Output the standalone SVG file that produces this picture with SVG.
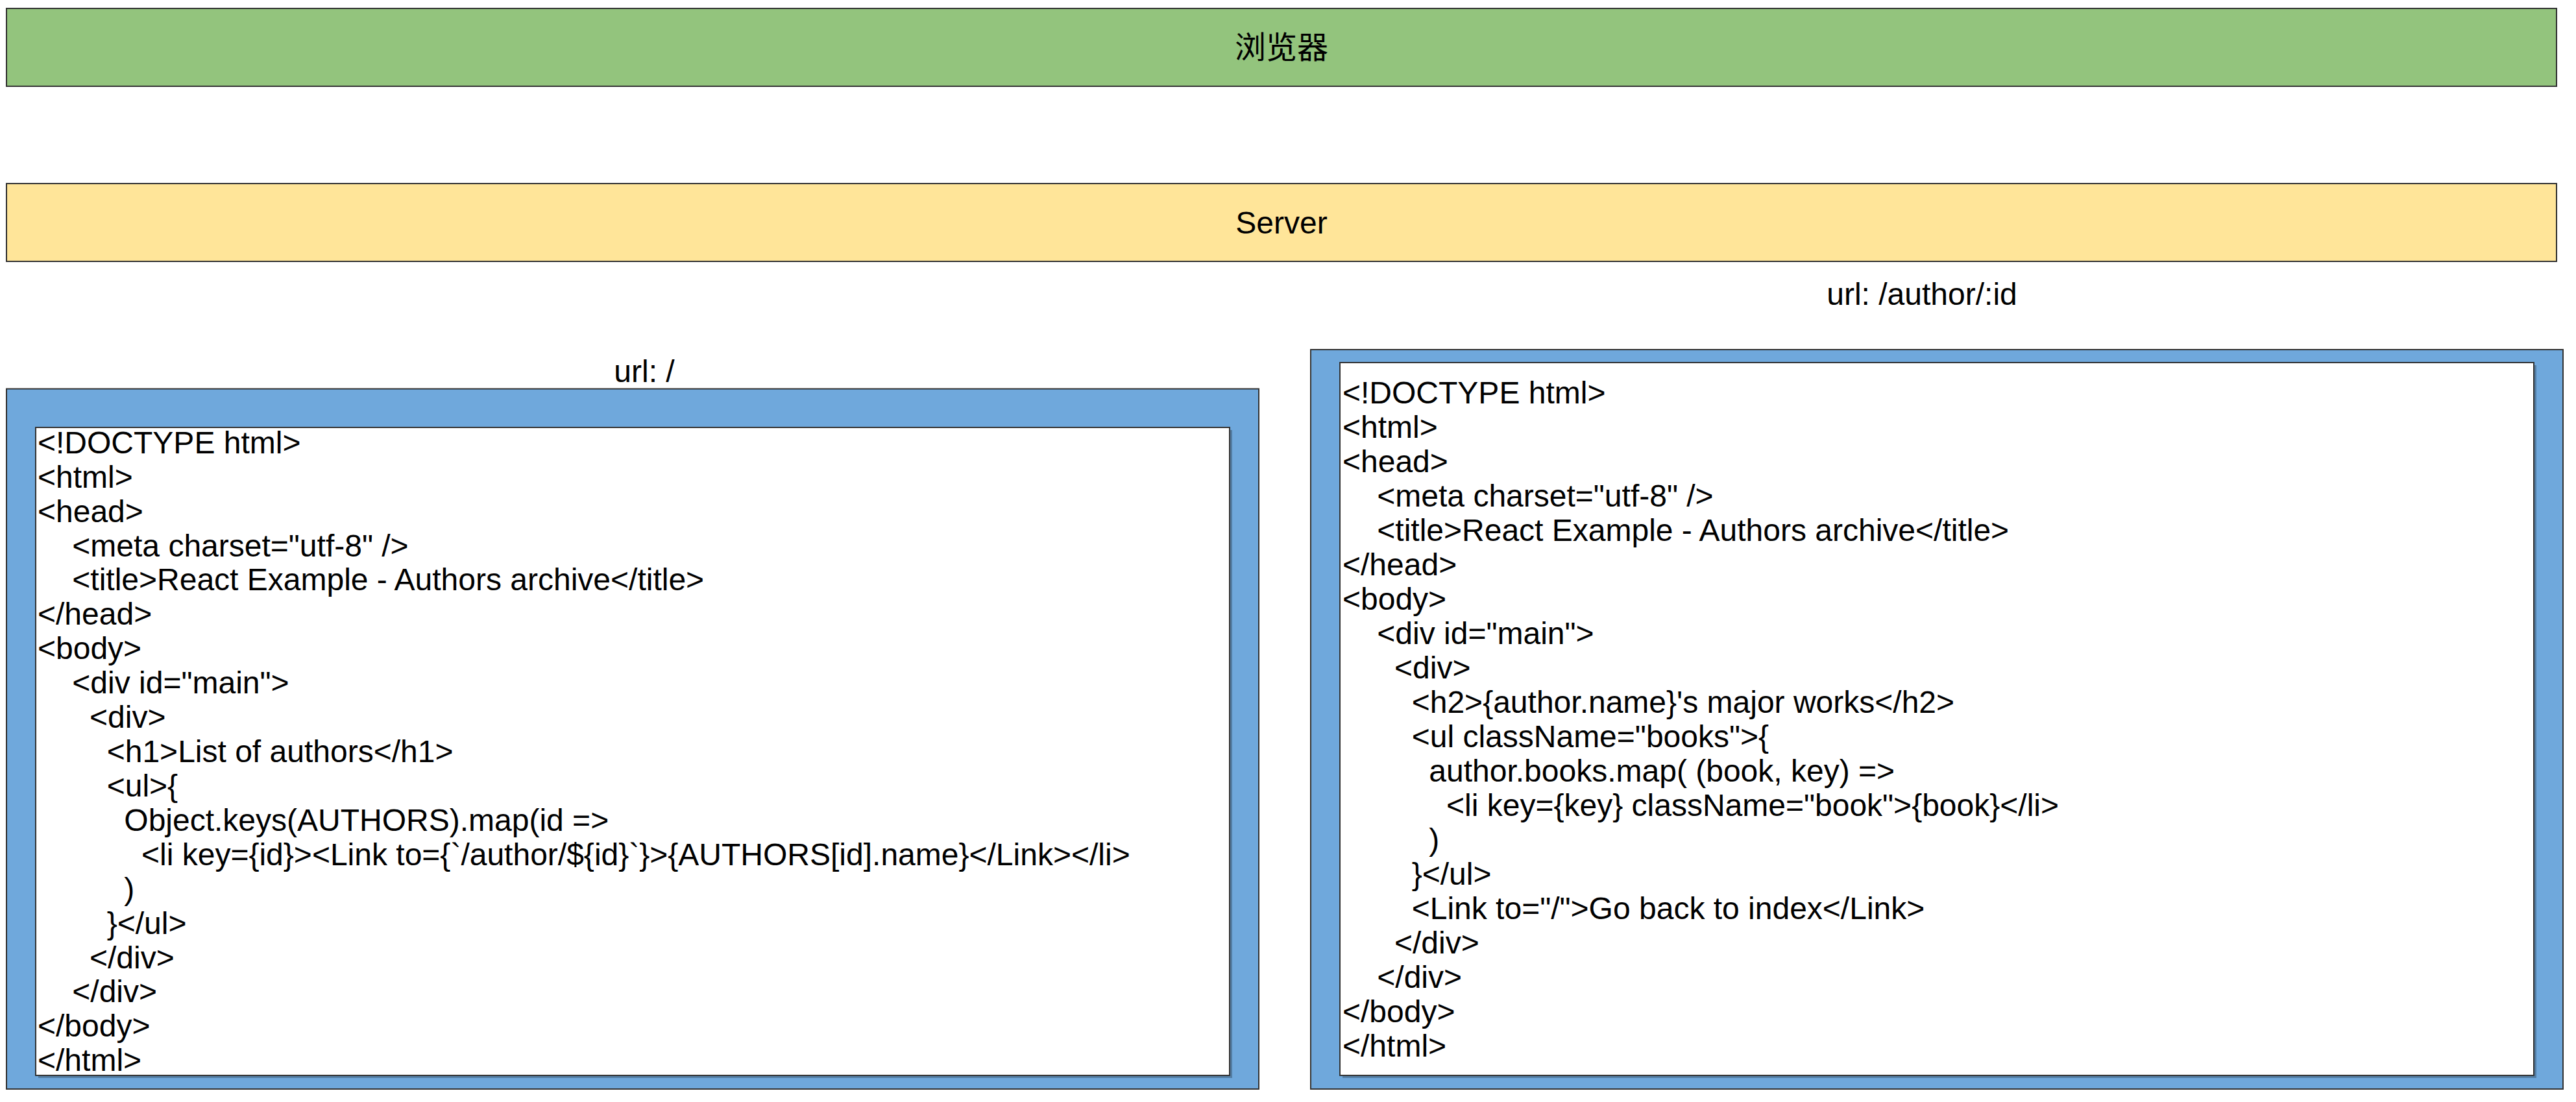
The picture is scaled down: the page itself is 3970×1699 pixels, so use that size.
<svg xmlns="http://www.w3.org/2000/svg" width="3970" height="1699" viewBox="0 0 3970 1699">
<style>
.box{stroke:#333333;stroke-width:2}
.green{fill:#93c47d}
.yellow{fill:#ffe599}
.blue{fill:#6fa8dc}
.white{fill:#ffffff}
.shadow{fill:#000000;fill-opacity:0.25}
text{font-family:"Liberation Sans",Arial,"Noto Sans CJK SC",sans-serif;font-size:48px;fill:#000000}
.mid{text-anchor:middle}
</style>
<rect x="0" y="0" width="3970" height="1699" fill="#ffffff"/>
<g id="browser">
<rect class="box green" x="10" y="13" width="3930" height="120"/>
<text class="mid" x="1975" y="90" style="font-family:'Noto Sans CJK SC','Liberation Sans',sans-serif">浏览器</text>
</g>
<g id="server">
<rect class="box yellow" x="10" y="283" width="3930" height="120"/>
<text class="mid" x="1975" y="360">Server</text>
</g>
<g id="label-index">
<text class="mid" x="993" y="589">url: /</text>
</g>
<g id="label-author">
<text class="mid" x="2962" y="470">url: /author/:id</text>
</g>
<g id="page-index">
<rect class="box blue" x="10" y="599.5" width="1930" height="1079.5"/>
<rect class="shadow" x="59" y="663" width="1840" height="999"/>
<rect class="box white" x="55" y="659" width="1840" height="999"/>
<text x="58" y="699">&lt;!DOCTYPE html&gt;</text>
<text x="58" y="752">&lt;html&gt;</text>
<text x="58" y="805">&lt;head&gt;</text>
<text x="111.3" y="858">&lt;meta charset="utf-8" /&gt;</text>
<text x="111.3" y="910">&lt;title&gt;React Example - Authors archive&lt;/title&gt;</text>
<text x="58" y="963">&lt;/head&gt;</text>
<text x="58" y="1016">&lt;body&gt;</text>
<text x="111.3" y="1069">&lt;div id="main"&gt;</text>
<text x="138" y="1122">&lt;div&gt;</text>
<text x="164.7" y="1175">&lt;h1&gt;List of authors&lt;/h1&gt;</text>
<text x="164.7" y="1228">&lt;ul&gt;{</text>
<text x="191.3" y="1281">Object.keys(AUTHORS).map(id =&gt;</text>
<text x="218" y="1334">&lt;li key={id}&gt;&lt;Link to={`/author/${id}`}&gt;{AUTHORS[id].name}&lt;/Link&gt;&lt;/li&gt;</text>
<text x="191.3" y="1387">)</text>
<text x="164.7" y="1440">}&lt;/ul&gt;</text>
<text x="138" y="1493">&lt;/div&gt;</text>
<text x="111.3" y="1545">&lt;/div&gt;</text>
<text x="58" y="1598">&lt;/body&gt;</text>
<text x="58" y="1651">&lt;/html&gt;</text>
</g>
<g id="page-author">
<rect class="box blue" x="2020" y="539" width="1930" height="1140"/>
<rect class="shadow" x="2069" y="563" width="1840" height="1099"/>
<rect class="box white" x="2065" y="559" width="1840" height="1099"/>
<text x="2069" y="622">&lt;!DOCTYPE html&gt;</text>
<text x="2069" y="675">&lt;html&gt;</text>
<text x="2069" y="728">&lt;head&gt;</text>
<text x="2122.3" y="781">&lt;meta charset="utf-8" /&gt;</text>
<text x="2122.3" y="834">&lt;title&gt;React Example - Authors archive&lt;/title&gt;</text>
<text x="2069" y="887">&lt;/head&gt;</text>
<text x="2069" y="940">&lt;body&gt;</text>
<text x="2122.3" y="993">&lt;div id="main"&gt;</text>
<text x="2149" y="1046">&lt;div&gt;</text>
<text x="2175.7" y="1099">&lt;h2&gt;{author.name}'s major works&lt;/h2&gt;</text>
<text x="2175.7" y="1152">&lt;ul className="books"&gt;{</text>
<text x="2202.3" y="1205">author.books.map( (book, key) =&gt;</text>
<text x="2229" y="1258">&lt;li key={key} className="book"&gt;{book}&lt;/li&gt;</text>
<text x="2202.3" y="1311">)</text>
<text x="2175.7" y="1364">}&lt;/ul&gt;</text>
<text x="2175.7" y="1417">&lt;Link to="/"&gt;Go back to index&lt;/Link&gt;</text>
<text x="2149" y="1470">&lt;/div&gt;</text>
<text x="2122.3" y="1523">&lt;/div&gt;</text>
<text x="2069" y="1576">&lt;/body&gt;</text>
<text x="2069" y="1629">&lt;/html&gt;</text>
</g>
<g id="connectors"/>
</svg>
